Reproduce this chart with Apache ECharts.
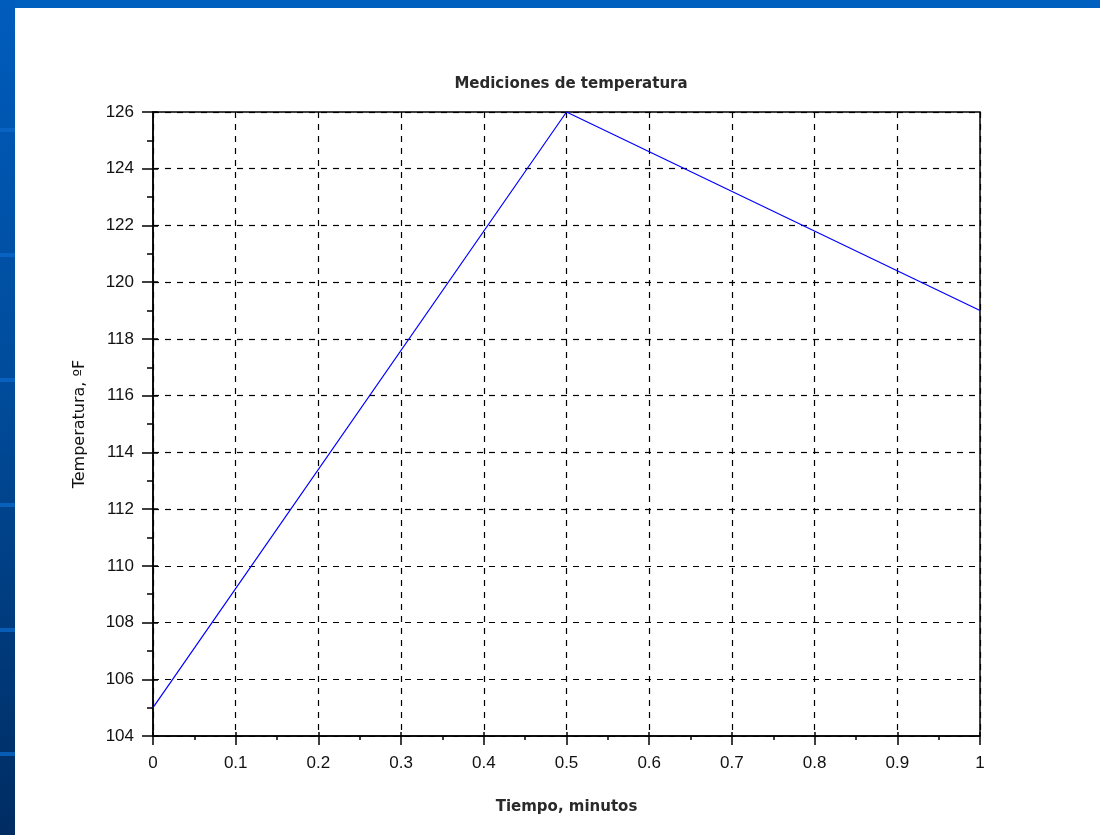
<!DOCTYPE html>
<html>
<head>
<meta charset="utf-8">
<script src="https://cdn.jsdelivr.net/npm/echarts@6/dist/echarts.min.js"></script>
<style>
html,body{margin:0;padding:0;background:#fff;}
#c{width:1100px;height:835px;}
</style>
</head>
<body>
<div id="c"></div>
<script>
// Data
const timeMin = [0, 0.5, 1];
const tempF = [105, 126, 119];
const titleText = 'Mediciones de temperatura';
const xName = 'Tiempo, minutos';
const yName = 'Temperatura, ºF';

const chart = echarts.init(document.getElementById('c'), null, {renderer: 'canvas'});

const stripLines = [130, 255, 380, 505, 630, 754];
const graphics = [
  {type: 'rect', shape: {x: 0, y: 0, width: 1100, height: 8}, style: {fill: '#0060c0'}, z: -10},
  {type: 'rect', shape: {x: 0, y: 0, width: 15, height: 835},
   style: {fill: new echarts.graphic.LinearGradient(0, 0, 0, 1, [
     {offset: 0, color: '#005cbc'}, {offset: 0.5, color: '#004a98'}, {offset: 1, color: '#002c62'}])}, z: -10}
];
stripLines.forEach(y => graphics.push({type: 'rect', shape: {x: 0, y: y - 2, width: 15, height: 4}, style: {fill: '#0a66c8', opacity: 0.8}, z: -9}));

const font = 'Liberation Sans, Arial, sans-serif';

chart.setOption({
  animation: false,
  backgroundColor: '#ffffff',
  graphic: graphics,
  title: {
    text: titleText, left: 566, top: 72, textAlign: 'center',
    textStyle: {fontFamily: 'DejaVu Sans', fontSize: 15, fontWeight: 'bold', color: '#2a2a2a'}
  },
  grid: {left: 153, right: 120, top: 112, bottom: 99, show: true, borderColor: '#000', borderWidth: 1.5, backgroundColor: 'transparent'},
  xAxis: [{
    type: 'value', min: 0, max: 1, interval: 0.1,
    name: xName, nameLocation: 'middle', nameGap: 64,
    nameTextStyle: {fontFamily: 'DejaVu Sans', fontSize: 15, fontWeight: 'bold', color: '#2a2a2a'},
    axisLine: {show: true, onZero: false, lineStyle: {color: '#000', width: 1.5}},
    axisTick: {show: true, inside: false, length: 9, lineStyle: {color: '#000', width: 1.5}},
    minorTick: {show: true, splitNumber: 2, length: 4, lineStyle: {color: '#000', width: 1.5}},
    axisLabel: {margin: 19, fontFamily: font, fontSize: 17, color: '#111',
      formatter: v => String(Math.round(v * 10) / 10)},
    splitLine: {show: true, lineStyle: {color: '#000', width: 1.2, type: [6, 6]}}
  }, {
    type: 'value', min: 0, max: 1, interval: 0.1, position: 'bottom',
    axisLine: {show: false}, axisLabel: {show: false}, splitLine: {show: false},
    axisTick: {show: true, inside: true, length: 4, lineStyle: {color: '#000', width: 1.5}}
  }],
  yAxis: [{
    type: 'value', min: 104, max: 126, interval: 2,
    name: yName, nameLocation: 'middle', nameGap: 65, nameRotate: 90,
    nameTextStyle: {fontFamily: 'DejaVu Sans', fontSize: 16, color: '#111'},
    axisLine: {show: true, onZero: false, lineStyle: {color: '#000', width: 1.5}},
    axisTick: {show: true, inside: false, length: 11, lineStyle: {color: '#000', width: 1.5}},
    minorTick: {show: true, splitNumber: 2, length: 6, lineStyle: {color: '#000', width: 1.5}},
    axisLabel: {margin: 19, fontFamily: font, fontSize: 17, color: '#111'},
    splitLine: {show: true, lineStyle: {color: '#000', width: 1.2, type: [6, 6]}}
  }, {
    type: 'value', min: 104, max: 126, interval: 2, position: 'left',
    axisLine: {show: false}, axisLabel: {show: false}, splitLine: {show: false},
    axisTick: {show: true, inside: true, length: 5, lineStyle: {color: '#000', width: 1.5}}
  }],
  series: [{
    type: 'line', xAxisIndex: 0, yAxisIndex: 0,
    data: timeMin.map((t, i) => [t, tempF[i]]),
    showSymbol: false, symbol: 'none',
    lineStyle: {color: '#0000ff', width: 1.2},
    z: 5
  }]
});
</script>
</body>
</html>
